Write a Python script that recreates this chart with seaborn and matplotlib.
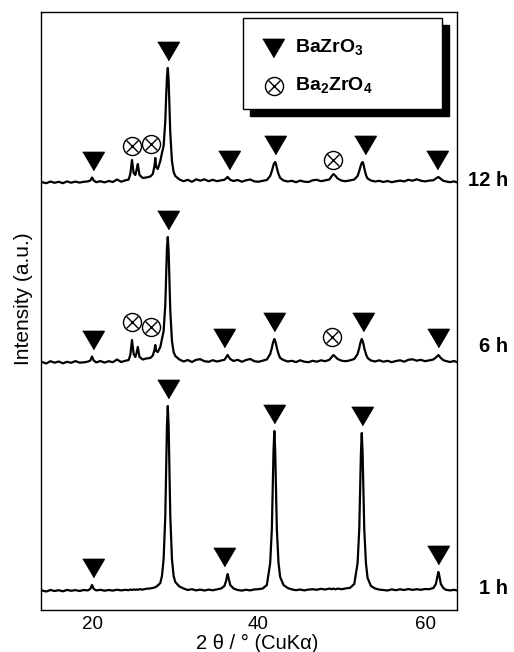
import matplotlib
matplotlib.use("Agg")
import matplotlib.pyplot as plt
from matplotlib.patches import Rectangle
import numpy as np
import pandas as pd
import seaborn as sns

# ---------------- data ----------------
two_theta = [
    14.0, 14.5, 15.0, 15.5, 16.0, 16.5, 17.0, 17.5, 18.0, 18.5,
    19.0, 19.5, 19.8, 20.0, 20.2, 20.5, 21.0, 21.5, 22.0, 22.5,
    23.0, 23.5, 24.0, 24.4, 24.6, 24.8, 25.0, 25.2, 25.35, 25.5,
    25.7, 26.1, 26.5, 27.0, 27.3, 27.5, 27.6, 27.7, 27.9, 28.2,
    28.4, 28.6, 28.8, 28.9, 29.0, 29.1, 29.2, 29.3, 29.4, 29.6,
    29.8, 30.0, 30.5, 31.0, 31.5, 32.0, 32.5, 33.0, 33.5, 34.0,
    34.5, 35.0, 35.5, 35.9, 36.1, 36.2, 36.3, 36.4, 36.6, 37.0,
    37.5, 38.0, 38.5, 39.0, 39.5, 40.0, 40.5, 41.0, 41.4, 41.6,
    41.7, 41.8, 41.9, 42.0, 42.1, 42.2, 42.4, 42.6, 43.0, 43.5,
    44.0, 44.5, 45.0, 45.5, 46.0, 46.5, 47.0, 47.5, 48.0, 48.5,
    48.8, 49.0, 49.2, 49.5, 50.0, 50.5, 51.0, 51.5, 51.9, 52.1,
    52.2, 52.3, 52.4, 52.5, 52.6, 52.7, 52.9, 53.1, 53.5, 54.0,
    54.5, 55.0, 55.5, 56.0, 56.5, 57.0, 57.5, 58.0, 58.5, 59.0,
    59.5, 60.0, 60.5, 61.0, 61.3, 61.5, 61.6, 61.7, 61.9, 62.2,
    62.5, 63.0, 63.5, 63.85,
]

int_1h = [
    0.5, -0.5, 1.0, 0.0, 0.8, -0.3, 1.1, 0.2, 0.9, 0.0,
    1.0, 0.6, 2.2, 6.0, 2.2, 0.6, 1.2, 0.3, 1.0, 0.4,
    1.3, 0.6, 1.2, 0.8, 1.5, 1.0, 1.6, 1.1, 1.5, 1.2,
    1.8, 1.4, 2.2, 2.6, 3.0, 3.5, 3.8, 4.2, 5.5, 8.0,
    15, 32, 75, 120, 165, 185, 165, 120, 75, 32,
    15, 9, 4.5, 2.5, 1.0, 1.8, 0.6, 1.4, 0.5, 1.4,
    0.7, 1.6, 2.5, 5, 10, 14, 17, 13, 6, 2.5,
    1.0, 0.4, 1.3, 0.6, 1.6, 1.8, 2.5, 6, 28, 62,
    100, 140, 160, 140, 100, 62, 28, 14, 6, 3,
    1.6, 0.8, 1.5, 0.6, 1.4, 1.8, 1.2, 2.2, 1.5, 2.4,
    1.8, 2.5, 1.6, 2.4, 1.8, 2.6, 3.2, 7, 28, 62,
    98, 138, 158, 138, 98, 62, 28, 13, 5, 2.5,
    1.4, 1.0, 0.5, 1.6, 0.8, 1.7, 1.0, 2.0, 1.1, 1.8,
    1.2, 2.0, 1.8, 3.0, 7, 15, 19, 16, 7, 3,
    1.2, 0.6, 1.2, 0.5,
]

int_6h = [
    1.0, -0.5, 1.8, 0.3, 1.5, -0.3, 1.2, 0.2, 1.9, 0.4,
    0.6, 1.4, 2.5, 6.5, 2.5, 0.6, 2.0, 0.4, 1.8, 0.8,
    3.5, 1.0, 2.2, 3.0, 8.0, 23, 9.0, 6.0, 10, 16,
    6.0, 3.5, 4.5, 5.0, 7.5, 13, 18, 12, 11, 16,
    24, 32, 58, 88, 115, 126, 112, 82, 52, 22,
    11, 7, 3.5, 1.5, 3.0, 1.0, 3.2, 3.8, 1.8, 1.2,
    2.8, 1.5, 2.4, 3.2, 5.5, 7, 8, 6.5, 4, 2.0,
    3.2, 1.2, 3.0, 4.0, 1.8, 1.2, 2.4, 3.5, 9, 15,
    19, 22, 24, 22, 19, 15, 9, 5, 3, 1.5,
    2.2, 0.9, 2.7, 1.3, 0.8, 2.2, 1.3, 2.7, 1.8, 3.2,
    6, 8, 6.5, 4, 2.2, 1.8, 2.7, 4, 9, 15,
    19, 22, 24, 22, 19, 15, 9, 5, 2.5, 1.5,
    2.7, 1.3, 2.2, 0.8, 2.0, 2.7, 1.3, 3.2, 3.7, 2.3,
    3.2, 1.8, 2.7, 3.5, 5.5, 7, 8, 7, 5, 2.8,
    2.0, 1.0, 2.0, 0.8,
]

int_12h = [
    0.8, -0.2, 1.5, 0.2, 1.2, -0.2, 1.6, 0.3, 1.4, 0.4,
    1.2, 1.6, 2.5, 5.5, 2.5, 0.8, 1.8, 0.6, 2.0, 1.0,
    3.5, 1.3, 2.7, 3.5, 9, 23, 10, 8, 13, 19,
    8, 5, 5.5, 6.5, 9, 17, 25, 16, 14, 22,
    30, 37, 62, 86, 106, 115, 103, 78, 50, 22,
    11, 7, 3.5, 1.8, 3.2, 1.2, 3.7, 2.3, 3.7, 1.8,
    3.2, 1.8, 2.7, 3.2, 4.5, 5.5, 6, 5, 3.2, 2,
    3.0, 1.3, 2.7, 3.5, 1.6, 1.3, 2.2, 3.0, 7, 12,
    15, 18, 20, 21, 19, 15, 9, 5, 2.5, 1.5,
    2.2, 0.8, 2.4, 1.3, 1.0, 2.7, 3.2, 1.8, 2.7, 3.5,
    7, 9, 7.5, 4.5, 2.3, 1.8, 2.7, 3.5, 7, 12,
    15, 18, 20, 21, 19, 15, 8, 4.5, 2.5, 1.5,
    2.2, 1.0, 2.0, 0.8, 1.7, 2.4, 1.6, 3.2, 2.3, 3.7,
    2.3, 1.6, 2.4, 2.7, 4.5, 5.5, 6, 5.5, 4, 2.2,
    1.6, 0.8, 1.6, 0.6,
]

samples = ["1 h", "6 h", "12 h"]
intensities = {"1 h": int_1h, "6 h": int_6h, "12 h": int_12h}

# BaZrO3 (triangle) and Ba2ZrO4 (otimes) reflections marked per pattern
bazro3_marks = {
    "1 h": [20.1, 29.1, 35.9, 41.9, 52.4, 61.6],
    "6 h": [20.1, 29.1, 35.8, 41.9, 52.5, 61.5],
    "12 h": [20.1, 29.1, 36.4, 42.0, 52.8, 61.4],
}
ba2zro4_marks = {
    "1 h": [],
    "6 h": [24.8, 27.1, 48.8],
    "12 h": [24.8, 27.1, 49.0],
}

# ---------------- layout / style ----------------
offsets = {"1 h": 19, "6 h": 247, "12 h": 427}
label_shift = {"1 h": 0, "6 h": 14, "12 h": 0}
tri_gap = 17
otimes_gap = {"1 h": 14, "6 h": 18, "12 h": 14}
tri_verts = [(-1, 0.85), (1, 0.85), (0, -0.85)]

sns.set_theme(style="white")
plt.rcParams["font.family"] = ["Liberation Sans", "DejaVu Sans"]
plt.rcParams["mathtext.fontset"] = "custom"
plt.rcParams["mathtext.rm"] = "Liberation Sans"
plt.rcParams["mathtext.bf"] = "Liberation Sans:bold"
plt.rcParams["mathtext.it"] = "Liberation Sans:italic"
plt.rcParams["text.color"] = "black"
plt.rcParams["axes.labelcolor"] = "black"
plt.rcParams["xtick.color"] = "black"
plt.rcParams["ytick.color"] = "black"

fig = plt.figure(figsize=(5.14, 6.52), dpi=100)
ax = fig.add_axes([41 / 514, 1 - 610 / 652, 416 / 514, 598 / 652])

rows = []
for s in samples:
    for t, v in zip(two_theta, intensities[s]):
        rows.append({"two_theta": t, "intensity": v + offsets[s], "sample": s})
df = pd.DataFrame(rows)

sns.lineplot(data=df, x="two_theta", y="intensity", hue="sample",
             units="sample", estimator=None,
             palette={s: "black" for s in samples}, legend=False,
             linewidth=1.6, ax=ax)

tt = np.array(two_theta)


def local_max(s, x, half=0.5):
    vals = np.array(intensities[s])
    m = (tt >= x - half) & (tt <= x + half)
    return vals[m].max() + offsets[s]


def draw_otimes(ax, x, y, transform=None):
    kwargs = {} if transform is None else {"transform": transform}
    ax.plot([x], [y], marker="o", ms=13, mfc="white", mec="black",
            mew=1.0, ls="none", zorder=5, clip_on=False, **kwargs)
    ax.plot([x], [y], marker="x", ms=9, mec="black", mew=1.0,
            ls="none", zorder=6, clip_on=False, **kwargs)


for s in samples:
    for x in bazro3_marks[s]:
        y = local_max(s, x) + tri_gap
        ax.plot([x], [y], marker=tri_verts, ms=15.5, color="black",
                ls="none", zorder=5)
    for x in ba2zro4_marks[s]:
        y = local_max(s, x, 0.6) + otimes_gap[s]
        draw_otimes(ax, x, y)
    ax.text(1.122, (offsets[s] + 2 + label_shift[s]) / 598, s,
            transform=ax.transAxes, ha="right", va="center",
            fontsize=14.5, fontweight="bold")

ax.set_xlim(13.87, 63.84)
ax.set_ylim(0, 598)
ax.set_xticks([20, 40, 60])
ax.set_yticks([])
ax.tick_params(axis="x", length=0, labelsize=13.5, pad=4, colors="black")
ax.set_xlabel("2 θ / ° (CuKα)", fontsize=14.5, color="black")
ax.set_ylabel("Intensity (a.u.)", fontsize=15, color="black")
ax.xaxis.set_label_coords(0.519, -0.04)
ax.yaxis.set_label_coords(-0.02, 0.52)
for sp in ax.spines.values():
    sp.set_color("black")
    sp.set_linewidth(1.0)
    sp.set_visible(True)

# legend box with solid drop shadow
bx0, bx1 = 202 / 416, 401 / 416
by0, by1 = (610 - 109) / 598, (610 - 18) / 598
dx, dy = 7 / 416, 7 / 598
ax.add_patch(Rectangle((bx0 + dx, by0 - dy), bx1 - bx0, by1 - by0,
                       transform=ax.transAxes, facecolor="black",
                       edgecolor="black", zorder=7))
ax.add_patch(Rectangle((bx0, by0), bx1 - bx0, by1 - by0,
                       transform=ax.transAxes, facecolor="white",
                       edgecolor="black", lw=1.0, zorder=8))
ax.plot([232 / 416], [(610 - 47.5) / 598], marker=tri_verts, ms=15.5,
        color="black", ls="none", transform=ax.transAxes, zorder=9)
ax.text(254 / 416, (610 - 47) / 598, r"BaZrO$_\mathbf{3}$",
        transform=ax.transAxes, fontsize=14, fontweight="bold",
        va="center", ha="left", zorder=9)
for mk, ms in (("o", 13), ("x", 9)):
    ax.plot([233 / 416], [(610 - 86) / 598], marker=mk, ms=ms, mfc="white",
            mec="black", mew=1.0, ls="none", transform=ax.transAxes, zorder=9)
ax.text(254 / 416, (610 - 85) / 598, r"Ba$_\mathbf{2}$ZrO$_\mathbf{4}$",
        transform=ax.transAxes, fontsize=14, fontweight="bold",
        va="center", ha="left", zorder=9)

fig.savefig("out.png", dpi=100)
